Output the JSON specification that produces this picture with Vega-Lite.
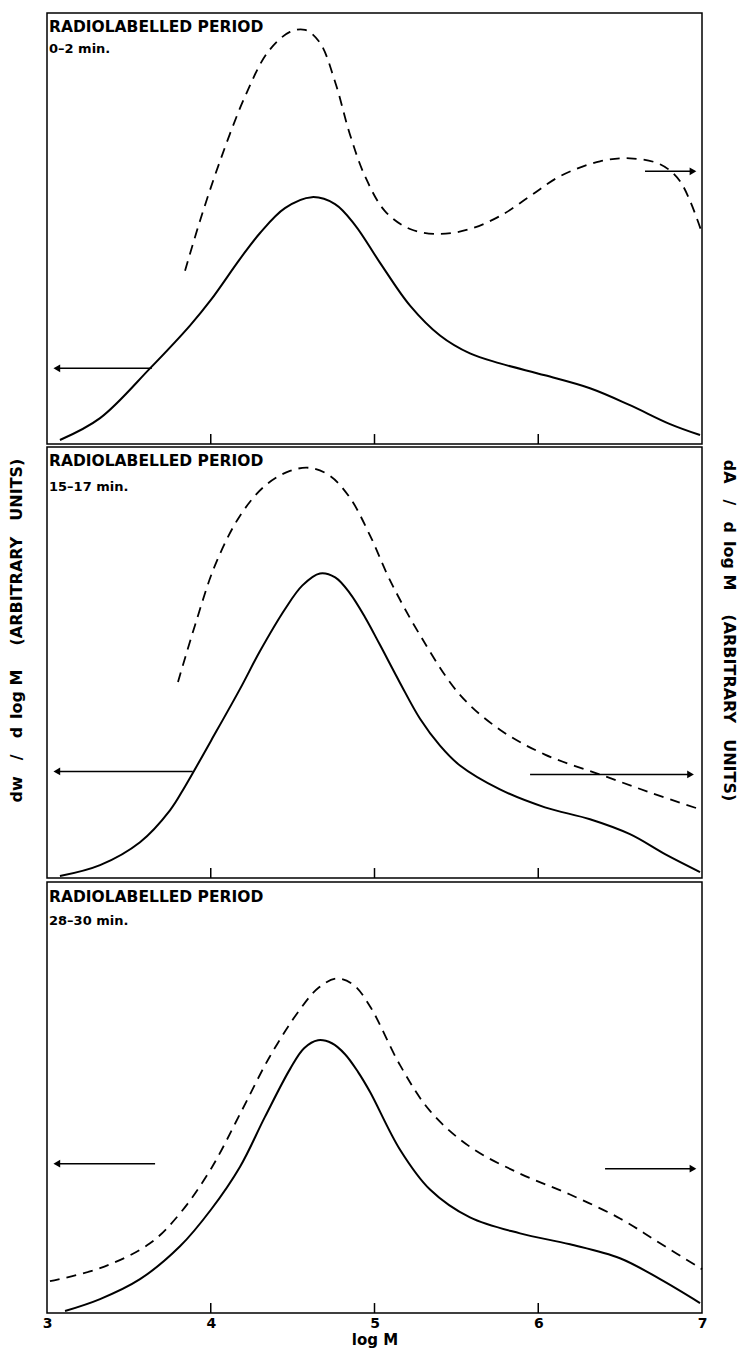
{
  "$schema": "https://vega.github.io/schema/vega-lite/v6.json",
  "autosize": {"type": "pad"},
  "padding": {"left": 7, "top": 12, "right": 5, "bottom": 5},
  "background": "white",
  "config": {
    "font": "DejaVu Sans",
    "view": {"stroke": "black", "strokeWidth": 1.5}
  },
  "datasets": {
    "curves": [
      {"p":1,"s":"solid","x":3.079,"y":4},{"p":1,"s":"solid","x":3.324,"y":26},{"p":1,"s":"solid","x":3.629,"y":76},{"p":1,"s":"solid","x":3.873,"y":119},{"p":1,"s":"solid","x":4.002,"y":145},{"p":1,"s":"solid","x":4.179,"y":186},{"p":1,"s":"solid","x":4.301,"y":212},{"p":1,"s":"solid","x":4.453,"y":237},{"p":1,"s":"solid","x":4.618,"y":248},{"p":1,"s":"solid","x":4.759,"y":241},{"p":1,"s":"solid","x":4.881,"y":220},{"p":1,"s":"solid","x":5.034,"y":182},{"p":1,"s":"solid","x":5.217,"y":139},{"p":1,"s":"solid","x":5.4,"y":109},{"p":1,"s":"solid","x":5.583,"y":91},{"p":1,"s":"solid","x":5.766,"y":81},{"p":1,"s":"solid","x":6.041,"y":69},{"p":1,"s":"solid","x":6.316,"y":56},{"p":1,"s":"solid","x":6.56,"y":39},{"p":1,"s":"solid","x":6.805,"y":20},{"p":1,"s":"solid","x":6.988,"y":9},
      {"p":1,"s":"dashed","x":3.843,"y":174},{"p":1,"s":"dashed","x":3.934,"y":224},{"p":1,"s":"dashed","x":4.056,"y":284},{"p":1,"s":"dashed","x":4.209,"y":349},{"p":1,"s":"dashed","x":4.35,"y":394},{"p":1,"s":"dashed","x":4.484,"y":414},{"p":1,"s":"dashed","x":4.576,"y":416},{"p":1,"s":"dashed","x":4.667,"y":403},{"p":1,"s":"dashed","x":4.759,"y":364},{"p":1,"s":"dashed","x":4.85,"y":311},{"p":1,"s":"dashed","x":4.942,"y":269},{"p":1,"s":"dashed","x":5.064,"y":234},{"p":1,"s":"dashed","x":5.217,"y":216},{"p":1,"s":"dashed","x":5.4,"y":211},{"p":1,"s":"dashed","x":5.583,"y":216},{"p":1,"s":"dashed","x":5.766,"y":229},{"p":1,"s":"dashed","x":5.95,"y":249},{"p":1,"s":"dashed","x":6.133,"y":269},{"p":1,"s":"dashed","x":6.377,"y":284},{"p":1,"s":"dashed","x":6.56,"y":287},{"p":1,"s":"dashed","x":6.744,"y":281},{"p":1,"s":"dashed","x":6.866,"y":264},{"p":1,"s":"dashed","x":7.0,"y":212},
      {"p":2,"s":"solid","x":3.079,"y":2},{"p":2,"s":"solid","x":3.324,"y":13},{"p":2,"s":"solid","x":3.568,"y":36},{"p":2,"s":"solid","x":3.751,"y":68},{"p":2,"s":"solid","x":3.843,"y":92},{"p":2,"s":"solid","x":4.002,"y":138},{"p":2,"s":"solid","x":4.179,"y":190},{"p":2,"s":"solid","x":4.301,"y":228},{"p":2,"s":"solid","x":4.453,"y":270},{"p":2,"s":"solid","x":4.56,"y":294},{"p":2,"s":"solid","x":4.667,"y":306},{"p":2,"s":"solid","x":4.76,"y":302},{"p":2,"s":"solid","x":4.85,"y":286},{"p":2,"s":"solid","x":4.942,"y":262},{"p":2,"s":"solid","x":5.034,"y":234},{"p":2,"s":"solid","x":5.156,"y":196},{"p":2,"s":"solid","x":5.278,"y":160},{"p":2,"s":"solid","x":5.4,"y":133},{"p":2,"s":"solid","x":5.522,"y":113},{"p":2,"s":"solid","x":5.766,"y":89},{"p":2,"s":"solid","x":6.041,"y":71},{"p":2,"s":"solid","x":6.316,"y":59},{"p":2,"s":"solid","x":6.56,"y":44},{"p":2,"s":"solid","x":6.774,"y":24},{"p":2,"s":"solid","x":6.988,"y":6},
      {"p":2,"s":"dashed","x":3.8,"y":197},{"p":2,"s":"dashed","x":3.904,"y":254},{"p":2,"s":"dashed","x":4.026,"y":314},{"p":2,"s":"dashed","x":4.179,"y":364},{"p":2,"s":"dashed","x":4.331,"y":394},{"p":2,"s":"dashed","x":4.484,"y":409},{"p":2,"s":"dashed","x":4.606,"y":412},{"p":2,"s":"dashed","x":4.728,"y":404},{"p":2,"s":"dashed","x":4.85,"y":382},{"p":2,"s":"dashed","x":4.973,"y":344},{"p":2,"s":"dashed","x":5.095,"y":299},{"p":2,"s":"dashed","x":5.278,"y":244},{"p":2,"s":"dashed","x":5.522,"y":184},{"p":2,"s":"dashed","x":5.766,"y":149},{"p":2,"s":"dashed","x":6.041,"y":124},{"p":2,"s":"dashed","x":6.377,"y":104},{"p":2,"s":"dashed","x":6.682,"y":86},{"p":2,"s":"dashed","x":6.988,"y":69},
      {"p":3,"s":"solid","x":3.11,"y":2},{"p":3,"s":"solid","x":3.324,"y":14},{"p":3,"s":"solid","x":3.568,"y":34},{"p":3,"s":"solid","x":3.812,"y":67},{"p":3,"s":"solid","x":4.002,"y":104},{"p":3,"s":"solid","x":4.179,"y":147},{"p":3,"s":"solid","x":4.331,"y":197},{"p":3,"s":"solid","x":4.484,"y":245},{"p":3,"s":"solid","x":4.57,"y":266},{"p":3,"s":"solid","x":4.655,"y":274},{"p":3,"s":"solid","x":4.74,"y":271},{"p":3,"s":"solid","x":4.82,"y":260},{"p":3,"s":"solid","x":4.9,"y":242},{"p":3,"s":"solid","x":4.973,"y":222},{"p":3,"s":"solid","x":5.156,"y":164},{"p":3,"s":"solid","x":5.339,"y":124},{"p":3,"s":"solid","x":5.583,"y":96},{"p":3,"s":"solid","x":5.889,"y":80},{"p":3,"s":"solid","x":6.194,"y":69},{"p":3,"s":"solid","x":6.499,"y":55},{"p":3,"s":"solid","x":6.744,"y":34},{"p":3,"s":"solid","x":6.988,"y":10},
      {"p":3,"s":"dashed","x":3.018,"y":32},{"p":3,"s":"dashed","x":3.324,"y":45},{"p":3,"s":"dashed","x":3.629,"y":70},{"p":3,"s":"dashed","x":3.812,"y":100},{"p":3,"s":"dashed","x":4.002,"y":145},{"p":3,"s":"dashed","x":4.179,"y":200},{"p":3,"s":"dashed","x":4.362,"y":258},{"p":3,"s":"dashed","x":4.545,"y":305},{"p":3,"s":"dashed","x":4.66,"y":327},{"p":3,"s":"dashed","x":4.77,"y":336},{"p":3,"s":"dashed","x":4.87,"y":330},{"p":3,"s":"dashed","x":4.973,"y":308},{"p":3,"s":"dashed","x":5.156,"y":249},{"p":3,"s":"dashed","x":5.339,"y":203},{"p":3,"s":"dashed","x":5.583,"y":167},{"p":3,"s":"dashed","x":5.889,"y":140},{"p":3,"s":"dashed","x":6.194,"y":119},{"p":3,"s":"dashed","x":6.499,"y":95},{"p":3,"s":"dashed","x":6.744,"y":70},{"p":3,"s":"dashed","x":7.0,"y":44}
    ],
    "arrowdata": [
      {"p":1,"x":3.64,"x2":3.06,"y":76,"dir":"left"},
      {"p":1,"x":6.652,"x2":6.945,"y":274,"dir":"right"},
      {"p":2,"x":3.89,"x2":3.06,"y":107,"dir":"left"},
      {"p":2,"x":5.95,"x2":6.93,"y":104,"dir":"right"},
      {"p":3,"x":3.66,"x2":3.06,"y":150,"dir":"left"},
      {"p":3,"x":6.408,"x2":6.945,"y":145,"dir":"right"}
    ],
    "tickvals": [{"x":4},{"x":5},{"x":6}],
    "paneltext": [
      {"p":1,"title":"RADIOLABELLED PERIOD","period":"0–2 min."},
      {"p":2,"title":"RADIOLABELLED PERIOD","period":"15–17 min."},
      {"p":3,"title":"RADIOLABELLED PERIOD","period":"28–30 min."}
    ]
  },
  "vconcat": [
    {
      "width": 655, "height": 431,
      "layer": [
        {"data": {"name": "curves"}, "transform": [{"filter": "datum.p==1 && datum.s=='solid'"}],
         "mark": {"type": "line", "interpolate": "catmull-rom", "color": "black", "strokeWidth": 2},
         "encoding": {"x": {"field": "x", "type": "quantitative", "scale": {"domain": [3, 7], "nice": false}, "axis": null},
                      "y": {"field": "y", "type": "quantitative", "scale": {"domain": [0, 433], "nice": false}, "axis": null}}},
        {"data": {"name": "curves"}, "transform": [{"filter": "datum.p==1 && datum.s=='dashed'"}],
         "mark": {"type": "line", "interpolate": "catmull-rom", "color": "black", "strokeWidth": 1.8, "strokeDash": [10, 7]},
         "encoding": {"x": {"field": "x", "type": "quantitative", "scale": {"domain": [3, 7], "nice": false}, "axis": null},
                      "y": {"field": "y", "type": "quantitative", "scale": {"domain": [0, 433], "nice": false}, "axis": null}}},
        {"data": {"name": "arrowdata"}, "transform": [{"filter": "datum.p==1"}],
         "mark": {"type": "rule", "color": "black", "strokeWidth": 1.5},
         "encoding": {"x": {"field": "x", "type": "quantitative", "scale": {"domain": [3, 7], "nice": false}, "axis": null}, "x2": {"field": "x2"},
                      "y": {"field": "y", "type": "quantitative", "scale": {"domain": [0, 433], "nice": false}, "axis": null}}},
        {"data": {"name": "arrowdata"}, "transform": [{"filter": "datum.p==1"}],
         "mark": {"type": "point", "filled": true, "color": "black", "opacity": 1, "size": 60},
         "encoding": {"x": {"field": "x2", "type": "quantitative", "scale": {"domain": [3, 7], "nice": false}, "axis": null},
                      "y": {"field": "y", "type": "quantitative", "scale": {"domain": [0, 433], "nice": false}, "axis": null},
                      "shape": {"field": "dir", "type": "nominal", "scale": {"domain": ["left", "right"], "range": ["triangle-left", "triangle-right"]}, "legend": null}}},
        {"data": {"name": "tickvals"},
         "mark": {"type": "rule", "color": "black", "strokeWidth": 1.5},
         "encoding": {"x": {"field": "x", "type": "quantitative", "scale": {"domain": [3, 7], "nice": false}, "axis": null},
                      "y": {"datum": 0, "type": "quantitative", "scale": {"domain": [0, 433], "nice": false}, "axis": null}, "y2": {"datum": 10}}},
        {"data": {"name": "paneltext"}, "transform": [{"filter": "datum.p==1"}],
         "mark": {"type": "text", "align": "left", "baseline": "top", "fontWeight": "bold", "fontSize": 15.5, "dx": 2, "dy": 7},
         "encoding": {"x": {"datum": 3, "type": "quantitative", "scale": {"domain": [3, 7], "nice": false}, "axis": null},
                      "y": {"datum": 433, "type": "quantitative", "scale": {"domain": [0, 433], "nice": false}, "axis": null},
                      "text": {"field": "title"}}},
        {"data": {"name": "paneltext"}, "transform": [{"filter": "datum.p==1"}],
         "mark": {"type": "text", "align": "left", "baseline": "top", "fontWeight": "bold", "fontSize": 13, "dx": 2, "dy": 30},
         "encoding": {"x": {"datum": 3, "type": "quantitative", "scale": {"domain": [3, 7], "nice": false}, "axis": null},
                      "y": {"datum": 433, "type": "quantitative", "scale": {"domain": [0, 433], "nice": false}, "axis": null},
                      "text": {"field": "period"}}}
      ]
    },
    {
      "width": 655, "height": 431,
      "resolve": {"axis": {"y": "independent"}},
      "layer": [
        {"data": {"name": "curves"}, "transform": [{"filter": "datum.p==2 && datum.s=='solid'"}],
         "mark": {"type": "line", "interpolate": "catmull-rom", "color": "black", "strokeWidth": 2},
         "encoding": {"x": {"field": "x", "type": "quantitative", "scale": {"domain": [3, 7], "nice": false}, "axis": null},
                      "y": {"field": "y", "type": "quantitative", "scale": {"domain": [0, 433], "nice": false},
                            "axis": {"orient": "left", "title": "dw\u2003/\u2003d\u2002log M\u2003\u2002(ARBITRARY\u2003UNITS)", "labels": false, "ticks": false, "domain": false, "grid": false,
                                     "titleFontSize": 16, "titleFontWeight": "bold", "titleColor": "black", "titleX": -23, "titleY": 183}}}},
        {"data": {"name": "curves"}, "transform": [{"filter": "datum.p==2 && datum.s=='dashed'"}],
         "mark": {"type": "line", "interpolate": "catmull-rom", "color": "black", "strokeWidth": 1.8, "strokeDash": [10, 7]},
         "encoding": {"x": {"field": "x", "type": "quantitative", "scale": {"domain": [3, 7], "nice": false}, "axis": null},
                      "y": {"field": "y", "type": "quantitative", "scale": {"domain": [0, 433], "nice": false},
                            "axis": {"orient": "right", "title": "dA\u2003/\u2003d\u2002log M\u2003\u2002(ARBITRARY\u2003UNITS)", "labels": false, "ticks": false, "domain": false, "grid": false,
                                     "titleFontSize": 16, "titleFontWeight": "bold", "titleColor": "black", "titleAngle": 90, "titleX": 18, "titleY": 183}}}},
        {"data": {"name": "arrowdata"}, "transform": [{"filter": "datum.p==2"}],
         "mark": {"type": "rule", "color": "black", "strokeWidth": 1.5},
         "encoding": {"x": {"field": "x", "type": "quantitative", "scale": {"domain": [3, 7], "nice": false}, "axis": null}, "x2": {"field": "x2"},
                      "y": {"field": "y", "type": "quantitative", "scale": {"domain": [0, 433], "nice": false}, "axis": null}}},
        {"data": {"name": "arrowdata"}, "transform": [{"filter": "datum.p==2"}],
         "mark": {"type": "point", "filled": true, "color": "black", "opacity": 1, "size": 60},
         "encoding": {"x": {"field": "x2", "type": "quantitative", "scale": {"domain": [3, 7], "nice": false}, "axis": null},
                      "y": {"field": "y", "type": "quantitative", "scale": {"domain": [0, 433], "nice": false}, "axis": null},
                      "shape": {"field": "dir", "type": "nominal", "scale": {"domain": ["left", "right"], "range": ["triangle-left", "triangle-right"]}, "legend": null}}},
        {"data": {"name": "tickvals"},
         "mark": {"type": "rule", "color": "black", "strokeWidth": 1.5},
         "encoding": {"x": {"field": "x", "type": "quantitative", "scale": {"domain": [3, 7], "nice": false}, "axis": null},
                      "y": {"datum": 0, "type": "quantitative", "scale": {"domain": [0, 433], "nice": false}, "axis": null}, "y2": {"datum": 10}}},
        {"data": {"name": "paneltext"}, "transform": [{"filter": "datum.p==2"}],
         "mark": {"type": "text", "align": "left", "baseline": "top", "fontWeight": "bold", "fontSize": 15.5, "dx": 2, "dy": 7},
         "encoding": {"x": {"datum": 3, "type": "quantitative", "scale": {"domain": [3, 7], "nice": false}, "axis": null},
                      "y": {"datum": 433, "type": "quantitative", "scale": {"domain": [0, 433], "nice": false}, "axis": null},
                      "text": {"field": "title"}}},
        {"data": {"name": "paneltext"}, "transform": [{"filter": "datum.p==2"}],
         "mark": {"type": "text", "align": "left", "baseline": "top", "fontWeight": "bold", "fontSize": 13, "dx": 2, "dy": 34},
         "encoding": {"x": {"datum": 3, "type": "quantitative", "scale": {"domain": [3, 7], "nice": false}, "axis": null},
                      "y": {"datum": 433, "type": "quantitative", "scale": {"domain": [0, 433], "nice": false}, "axis": null},
                      "text": {"field": "period"}}}
      ]
    },
    {
      "width": 655, "height": 431,
      "resolve": {"axis": {"x": "independent"}},
      "layer": [
        {"data": {"name": "curves"}, "transform": [{"filter": "datum.p==3 && datum.s=='solid'"}],
         "mark": {"type": "line", "interpolate": "catmull-rom", "color": "black", "strokeWidth": 2},
         "encoding": {"x": {"field": "x", "type": "quantitative", "scale": {"domain": [3, 7], "nice": false},
                            "axis": {"orient": "bottom", "values": [3, 4, 5, 6, 7], "format": "d", "ticks": false, "domain": false, "grid": false,
                                     "labels": true, "labelFlush": false, "labelFontSize": 14, "labelFontWeight": "bold", "labelColor": "black", "labelPadding": 3,
                                     "title": "log M", "titleFontSize": 15, "titleFontWeight": "bold", "titleColor": "black", "titlePadding": 2}},
                      "y": {"field": "y", "type": "quantitative", "scale": {"domain": [0, 433], "nice": false}, "axis": null}}},
        {"data": {"name": "curves"}, "transform": [{"filter": "datum.p==3 && datum.s=='dashed'"}],
         "mark": {"type": "line", "interpolate": "catmull-rom", "color": "black", "strokeWidth": 1.8, "strokeDash": [10, 7]},
         "encoding": {"x": {"field": "x", "type": "quantitative", "scale": {"domain": [3, 7], "nice": false}, "axis": null},
                      "y": {"field": "y", "type": "quantitative", "scale": {"domain": [0, 433], "nice": false}, "axis": null}}},
        {"data": {"name": "arrowdata"}, "transform": [{"filter": "datum.p==3"}],
         "mark": {"type": "rule", "color": "black", "strokeWidth": 1.5},
         "encoding": {"x": {"field": "x", "type": "quantitative", "scale": {"domain": [3, 7], "nice": false}, "axis": null}, "x2": {"field": "x2"},
                      "y": {"field": "y", "type": "quantitative", "scale": {"domain": [0, 433], "nice": false}, "axis": null}}},
        {"data": {"name": "arrowdata"}, "transform": [{"filter": "datum.p==3"}],
         "mark": {"type": "point", "filled": true, "color": "black", "opacity": 1, "size": 60},
         "encoding": {"x": {"field": "x2", "type": "quantitative", "scale": {"domain": [3, 7], "nice": false}, "axis": null},
                      "y": {"field": "y", "type": "quantitative", "scale": {"domain": [0, 433], "nice": false}, "axis": null},
                      "shape": {"field": "dir", "type": "nominal", "scale": {"domain": ["left", "right"], "range": ["triangle-left", "triangle-right"]}, "legend": null}}},
        {"data": {"name": "tickvals"},
         "mark": {"type": "rule", "color": "black", "strokeWidth": 1.5},
         "encoding": {"x": {"field": "x", "type": "quantitative", "scale": {"domain": [3, 7], "nice": false}, "axis": null},
                      "y": {"datum": 0, "type": "quantitative", "scale": {"domain": [0, 433], "nice": false}, "axis": null}, "y2": {"datum": 10}}},
        {"data": {"name": "paneltext"}, "transform": [{"filter": "datum.p==3"}],
         "mark": {"type": "text", "align": "left", "baseline": "top", "fontWeight": "bold", "fontSize": 15.5, "dx": 2, "dy": 8},
         "encoding": {"x": {"datum": 3, "type": "quantitative", "scale": {"domain": [3, 7], "nice": false}, "axis": null},
                      "y": {"datum": 433, "type": "quantitative", "scale": {"domain": [0, 433], "nice": false}, "axis": null},
                      "text": {"field": "title"}}},
        {"data": {"name": "paneltext"}, "transform": [{"filter": "datum.p==3"}],
         "mark": {"type": "text", "align": "left", "baseline": "top", "fontWeight": "bold", "fontSize": 13, "dx": 2, "dy": 33},
         "encoding": {"x": {"datum": 3, "type": "quantitative", "scale": {"domain": [3, 7], "nice": false}, "axis": null},
                      "y": {"datum": 433, "type": "quantitative", "scale": {"domain": [0, 433], "nice": false}, "axis": null},
                      "text": {"field": "period"}}}
      ]
    }
  ],
  "spacing": 0
}
